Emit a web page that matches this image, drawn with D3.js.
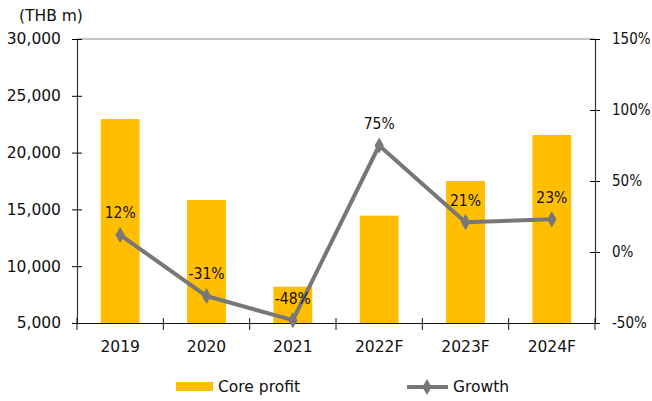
<!DOCTYPE html>
<html><head><meta charset="utf-8">
<script src="https://cdn.jsdelivr.net/npm/d3@7"></script>
<style>body{margin:0;background:#fff}text{font-family:"DejaVu Sans",Verdana,sans-serif;fill:#111}.pct{font-family:"DejaVu Sans Condensed","DejaVu Sans",sans-serif}</style>
</head><body>
<svg id="c" width="652" height="401"></svg>
<script>
const categories = ["2019","2020","2021","2022F","2023F","2024F"];
const coreProfit = [22950, 15830, 8200, 14450, 17500, 21550];
const growth = [12, -31, -48, 75, 21, 23];
const leftTicks = [5000,10000,15000,20000,25000,30000];
const rightTicks = [-50,0,50,100,150];

const svg = d3.select("#c");
const L = 77, R = 595, T = 39, B = 323;
const fs = "15.5px";
const x = d3.scaleBand().domain(categories).range([L,R]).paddingInner(0.55).paddingOuter(0.275);
const xb = d3.scaleBand().domain(categories).range([L,R]);
const y = d3.scaleLinear().domain([5000,30000]).range([B,T]);
const y2 = d3.scaleLinear().domain([-50,150]).range([B,T]);

// top border
svg.append("line").attr("x1",L).attr("x2",R).attr("y1",T).attr("y2",T).attr("stroke","#8c8c8c").attr("stroke-width",1.2);

// bars
svg.selectAll("rect.bar").data(categories).join("rect").attr("class","bar")
  .attr("x",d=>x(d)).attr("width",x.bandwidth())
  .attr("y",(d,i)=>y(coreProfit[i])).attr("height",(d,i)=>B-y(coreProfit[i]))
  .attr("fill","#FFBF00");

// left axis
const gl = svg.append("g").attr("transform",`translate(${L},0)`)
  .call(d3.axisLeft(y).tickValues(leftTicks).tickFormat(d3.format(",")).tickSizeInner(5).tickSizeOuter(0));
gl.selectAll(".tick line").attr("x2",-5).attr("x1",5);
gl.selectAll(".tick text").attr("x",-16).style("font-size",fs);
gl.select(".domain").attr("stroke","#333").attr("stroke-width",1.2);

// right axis
const gr = svg.append("g").attr("transform",`translate(${R},0)`)
  .call(d3.axisRight(y2).tickValues(rightTicks).tickFormat(d=>d+"%").tickSizeOuter(0));
gr.selectAll(".tick line").attr("x1",-5).attr("x2",5);
gr.selectAll(".tick text").attr("x",17).attr("class","pct").style("font-size","15px");
gr.select(".domain").attr("stroke","#333").attr("stroke-width",1.2);

// bottom axis
const gb = svg.append("g").attr("transform",`translate(0,${B})`)
  .call(d3.axisBottom(xb).tickSize(0).tickSizeOuter(0));
gb.select(".domain").attr("stroke","#111").attr("stroke-width",1.2);
gb.selectAll(".tick text").attr("y",18).attr("dy","0.71em").style("font-size",fs);
const bounds = categories.map(c=>xb(c)).concat([R]);
gb.selectAll("line.bt").data(bounds).join("line").attr("class","bt")
  .attr("x1",d=>d).attr("x2",d=>d).attr("y1",-5).attr("y2",7).attr("stroke","#111").attr("stroke-width",1);

// growth line
const cx = (d)=>xb(d)+xb.bandwidth()/2;
const line = d3.line().x((d,i)=>cx(categories[i])).y(d=>y2(d));
svg.append("path").datum(growth).attr("d",line).attr("fill","none").attr("stroke","#777").attr("stroke-width",4).attr("stroke-linejoin","round");
const diamond = d3.symbol().type(d3.symbolDiamond).size(75);
svg.selectAll("path.pt").data(growth).join("path").attr("class","pt")
  .attr("transform",(d,i)=>`translate(${cx(categories[i])},${y2(d)})`).attr("d",diamond).attr("fill","#777");
svg.selectAll("text.lbl").data(growth).join("text").attr("class","lbl pct")
  .attr("x",(d,i)=>cx(categories[i])).attr("y",d=>y2(d)-22).attr("dy","0.35em")
  .attr("text-anchor","middle").style("font-size",fs).text(d=>d+"%");

// title
svg.append("text").attr("x",19).attr("y",21).style("font-size",fs).text("(THB m)");

// legend
svg.append("rect").attr("x",176).attr("y",382).attr("width",37).attr("height",9).attr("fill","#FFBF00");
svg.append("text").attr("x",218).attr("y",387).attr("dy","0.35em").style("font-size",fs).text("Core profit");
svg.append("line").attr("x1",407).attr("x2",448).attr("y1",387).attr("y2",387).attr("stroke","#777").attr("stroke-width",4);
svg.append("path").attr("transform","translate(427,387)").attr("d",diamond).attr("fill","#777");
svg.append("text").attr("x",453).attr("y",387).attr("dy","0.35em").style("font-size",fs).text("Growth");
</script>
</body></html>
